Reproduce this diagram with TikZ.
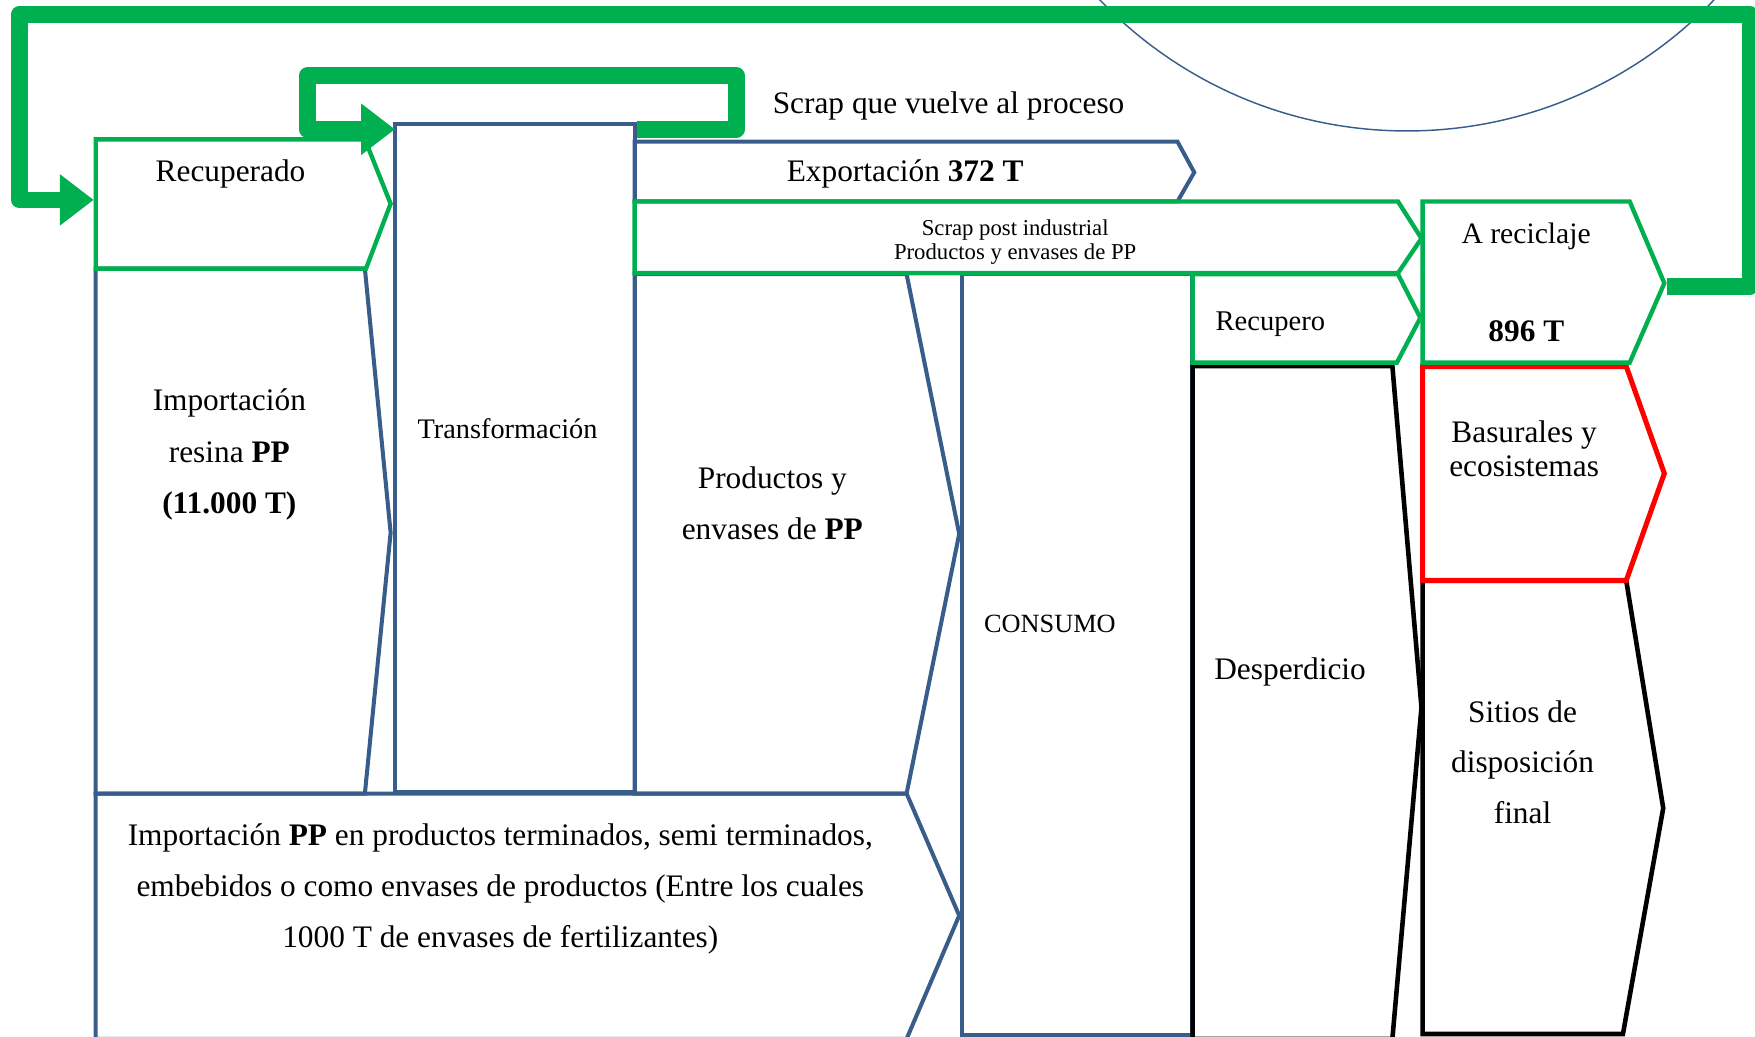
\documentclass[tikz,border=0pt]{standalone}
\usepackage{fontspec}
\setmainfont{Liberation Serif}
\definecolor{pgreen}{HTML}{00B050}
\definecolor{pblue}{HTML}{385D8A}
\tikzset{
  bluebox/.style={draw=pblue, line width=3.6pt},
  greenbox/.style={draw=pgreen, line width=3.9pt},
  blackbox/.style={draw=black, line width=4.1pt},
  redbox/.style={draw=red, line width=4.5pt},
  flowloop/.style={draw=pgreen, line width=15pt, line join=round},
  headtip/.style={fill=pgreen},
  txt/.style={inner sep=0pt, align=center, font=\fontsize{28}{46}\selectfont},
}
\begin{document}
\begin{tikzpicture}[x=1pt,y=-1pt]
\useasboundingbox (0,0) rectangle (1568,926.5);
\clip (0,0) rectangle (1568,926.5);
% thin arc
\draw[pblue, line width=1.3pt] (1257,-263) circle[radius=380pt];
% blue boxes
\draw[bluebox] (353,111) rectangle (567,708);
\draw[bluebox] (567,126.5) -- (1052,126.5) -- (1067,154) -- (1052,180) -- (567,180) -- cycle;
\draw[bluebox] (85.5,240) -- (326,240) -- (349,476) -- (326,709) -- (85.5,709) -- cycle;
\draw[bluebox] (567,245) -- (810,245) -- (857,477) -- (810,709) -- (567,709) -- cycle;
\draw[bluebox] (85.5,709) -- (810,709) -- (857,818) -- (810,928.2) -- (85.5,928.2) -- cycle;
\draw[bluebox] (859.5,245) rectangle (1065,924.3);
% black boxes
\draw[blackbox] (1065.5,327) -- (1244,327) -- (1270,632) -- (1244,928.3) -- (1065.5,928.3) -- cycle;
\draw[blackbox] (1271,519) -- (1453,519) -- (1486,722) -- (1450,923.8) -- (1271,923.8) -- cycle;
% red box
\draw[redbox] (1271,327.5) -- (1453,327.5) -- (1487,423) -- (1453,518.5) -- (1271,518.5) -- cycle;
% green boxes
\draw[greenbox] (85.5,124.5) -- (326,124.5) -- (349,182) -- (327,240) -- (85.5,240) -- cycle;
\draw[greenbox] (567,180) -- (1249,180) -- (1270,213) -- (1249,244) -- (567,244) -- cycle;
\draw[greenbox] (1065.5,245) -- (1249,245) -- (1269,284) -- (1248,324) -- (1065.5,324) -- cycle;
\draw[greenbox] (1271,180) -- (1456,180) -- (1487,253) -- (1456,324) -- (1271,324) -- cycle;
% loops
\coordinate (outStart) at (1489,256);
\coordinate (recIn) at (83.5,178.6);
\draw[flowloop] (outStart) -- (1563.5,256) -- (1563.5,12.8) -- (17.3,12.8) -- (17.3,178.6) -- (55,178.6);
\fill[headtip] (recIn) -- ++(-30,-23) -- ++(0,46) -- cycle;
\coordinate (innerStart) at (569,115.5);
\coordinate (trIn) at (352.7,115.5);
\draw[flowloop] (innerStart) -- (657.8,115.5) -- (657.8,67.7) -- (274.5,67.7) -- (274.5,115.5) -- (324.5,115.5);
\fill[headtip] (trIn) -- ++(-30,-23) -- ++(0,46) -- cycle;
% texts
\node[txt] (tRecuperado) at (206,155.2) {Recuperado};
\node[txt] (tImport) at (204.9,406.3) {Importación\\resina \textbf{PP}\\\textbf{(11.000 T)}};
\node[txt, font=\fontsize{25.3}{30}\selectfont] (tTransf) at (453.5,383.3) {Transformación};
\node[txt] (tScrapVuelve) at (847.5,94.8) {Scrap que vuelve al proceso};
\node[txt] (tExport) at (808.7,155.8) {Exportación \textbf{372 T}};
\node[txt, font=\fontsize{20.3}{21}\selectfont] (tScrapPost) at (907,216.2) {Scrap post industrial\\Productos y envases de PP};
\node[txt] (tProductos) at (690,449.5) {Productos y\\envases de \textbf{PP}};
\node[txt, font=\fontsize{28}{45.5}\selectfont] (tBottom) at (447,794) {Importación \textbf{PP} en productos terminados, semi terminados,\\embebidos o como envases de productos (Entre los cuales\\1000 T de envases de fertilizantes)};
\node[txt, font=\fontsize{23.5}{28}\selectfont] (tConsumo) at (938,557.5) {CONSUMO};
\node[txt, font=\fontsize{25.5}{30}\selectfont] (tRecupero) at (1135,289.5) {Recupero};
\node[txt] (tDesp) at (1152.6,600.8) {Desperdicio};
\node[txt, font=\fontsize{26.5}{30}\selectfont] (tArec) at (1363.5,210.8) {A reciclaje};
\node[txt] (t896) at (1363.7,296) {\textbf{896 T}};
\node[txt, font=\fontsize{28}{30.5}\selectfont] (tBasur) at (1361.7,400.8) {Basurales y\\ecosistemas};
\node[txt, font=\fontsize{28}{45.5}\selectfont] (tSitios) at (1360.3,681) {Sitios de\\disposición\\final};
\end{tikzpicture}
\end{document}
